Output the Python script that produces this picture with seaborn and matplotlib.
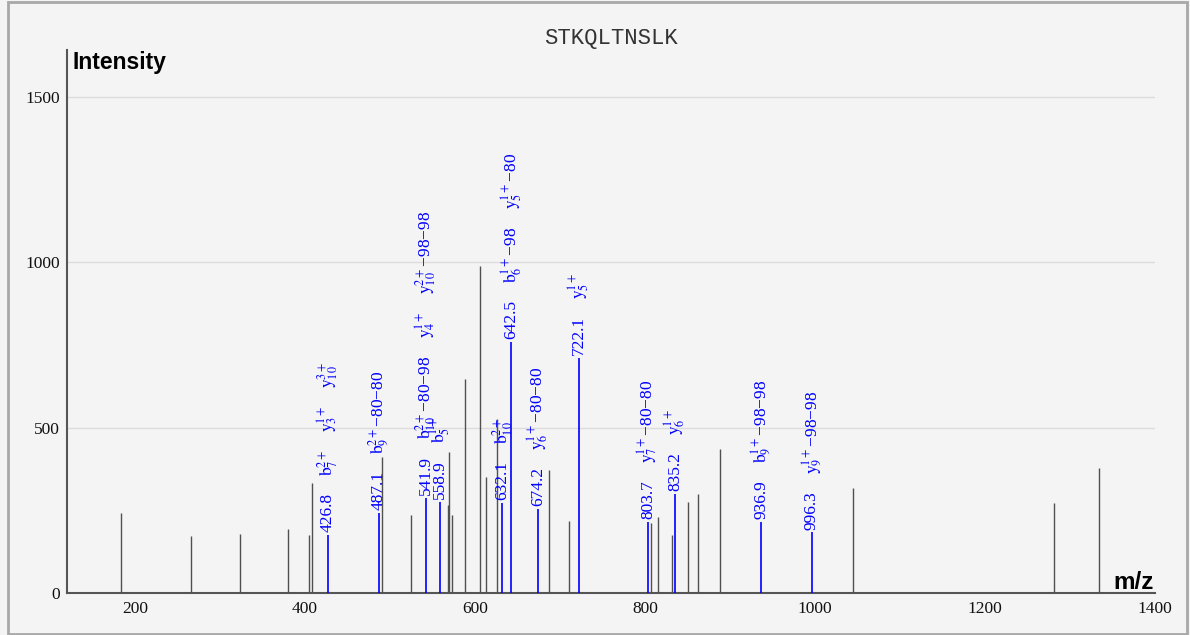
import matplotlib
matplotlib.use("Agg")
import matplotlib.pyplot as plt
import matplotlib.patches as mpatches
from matplotlib.ticker import MultipleLocator
import pandas as pd
import seaborn as sns

peptide = "STKQLTNSLK"

# unassigned fragment peaks (grey)
other_mz = [183.9, 265.5, 323.2, 380.4, 405.0, 408.2, 490.2, 524.3, 567.9, 569.8,
            572.6, 588.2, 605.9, 612.6, 625.5, 687.4, 710.8, 807.2, 814.9, 832.1,
            850.2, 862.0, 888.2, 1045.0, 1281.2, 1334.5]
other_int = [241, 172, 178, 193, 175, 333, 411, 236, 266, 426,
             236, 647, 989, 351, 526, 372, 218, 213, 231, 175,
             275, 299, 435, 317, 273, 377]

# assigned peaks (blue) and their ion annotations
ion_mz = [426.8, 487.1, 541.9, 558.9, 632.1, 642.5, 674.2, 722.1, 803.7, 835.2, 936.9, 996.3]
ion_int = [175, 242, 287, 275, 272, 759, 254, 711, 215, 299, 215, 183]
ion_labels = [
    [r"$\mathrm{b}_{7}^{2+}$", r"$\mathrm{y}_{3}^{1+}$", r"$\mathrm{y}_{10}^{3+}$"],
    [r"$\mathrm{b}_{9}^{2+}$−80−80"],
    [r"$\mathrm{b}_{10}^{2+}$−80−98", r"$\mathrm{y}_{4}^{1+}$", r"$\mathrm{y}_{10}^{2+}$−98−98"],
    [r"$\mathrm{b}_{5}^{1+}$"],
    [r"$\mathrm{b}_{10}^{2+}$"],
    [r"$\mathrm{b}_{6}^{1+}$−98", r"$\mathrm{y}_{5}^{1+}$−80"],
    [r"$\mathrm{y}_{6}^{1+}$−80−80"],
    [r"$\mathrm{y}_{5}^{1+}$"],
    [r"$\mathrm{y}_{7}^{1+}$−80−80"],
    [r"$\mathrm{y}_{6}^{1+}$"],
    [r"$\mathrm{b}_{9}^{1+}$−98−98"],
    [r"$\mathrm{y}_{9}^{1+}$−98−98"],
]

x_major = [200, 400, 600, 800, 1000, 1200, 1400]
y_major = [0, 500, 1000, 1500]

W, H, DPI = 1190, 635, 100
BG = "#f4f4f4"

sns.set_theme(style="white", rc={"axes.facecolor": BG, "figure.facecolor": BG})
plt.rcParams["font.family"] = ["Liberation Serif", "DejaVu Serif"]
plt.rcParams["mathtext.fontset"] = "stix"

df_other = pd.DataFrame({"mz": other_mz, "intensity": other_int})
df_ion = pd.DataFrame({"mz": ion_mz, "intensity": ion_int})

fig = plt.figure(figsize=(W / DPI, H / DPI), dpi=DPI)
ax = fig.add_axes([67 / W, 1 - 593 / H, (1155 - 67) / W, (593 - 50) / H])

ax.vlines(df_other["mz"], 0, df_other["intensity"], color="#505050", lw=1.0, zorder=3)
ax.vlines(df_ion["mz"], 0, df_ion["intensity"], color="#0000ff", lw=1.2, zorder=4)

ax.set_xlim(120, 1400)
ax.set_ylim(0, 1642)
ax.set_xticks(x_major)
ax.set_yticks(y_major)
ax.xaxis.set_minor_locator(MultipleLocator(50))
ax.yaxis.set_minor_locator(MultipleLocator(100))
ax.tick_params(which="major", direction="in", length=7.5, width=1, color="#333333",
               labelsize=12.5, labelcolor="#111111")
ax.tick_params(which="minor", direction="in", length=4.5, width=1, color="#333333")
ax.tick_params(axis="x", which="both", pad=6)
ax.tick_params(axis="y", which="both", pad=5)
ax.grid(axis="y", which="major", color="#dcdcdc", lw=1)
ax.set_axisbelow(True)
sns.despine(ax=ax)
for side in ["left", "bottom"]:
    ax.spines[side].set_color("#555555")
    ax.spines[side].set_linewidth(1.5)

# stacked, rotated annotations above each assigned peak
fig.canvas.draw()
renderer = fig.canvas.get_renderer()
gap_pt = 12.5
for mz, inten, labels in zip(ion_mz, ion_int, ion_labels):
    off = 2
    for s in [f"{mz:.1f}"] + labels:
        t = ax.annotate(s, (mz, inten), xytext=(0, off), textcoords="offset points",
                        rotation=90, ha="center", va="bottom", fontsize=12.5,
                        color="#0000ff", zorder=5)
        h = t.get_window_extent(renderer).height
        off += h * 72 / DPI + gap_pt

fig.text(611 / W, 1 - 44 / H, peptide, ha="center", va="baseline",
         fontsize=16, family=["Liberation Mono", "DejaVu Sans Mono"], color="#333333")
fig.text(72 / W, 1 - 51 / H, "Intensity", ha="left", va="top", fontsize=16.5,
         fontweight="bold", family=["Liberation Sans", "DejaVu Sans"], color="black")
fig.text(1154 / W, 1 - 589 / H, "m/z", ha="right", va="baseline", fontsize=17.5,
         fontweight="bold", family=["Liberation Sans", "DejaVu Sans"], color="black")

fig.add_artist(mpatches.Rectangle((8 / W, 1 / H), (1187 - 8) / W, (633 - 1) / H,
                                  transform=fig.transFigure, fill=False,
                                  edgecolor="#a8a8a8", lw=2))

fig.savefig("out.png", dpi=DPI, facecolor=BG)
